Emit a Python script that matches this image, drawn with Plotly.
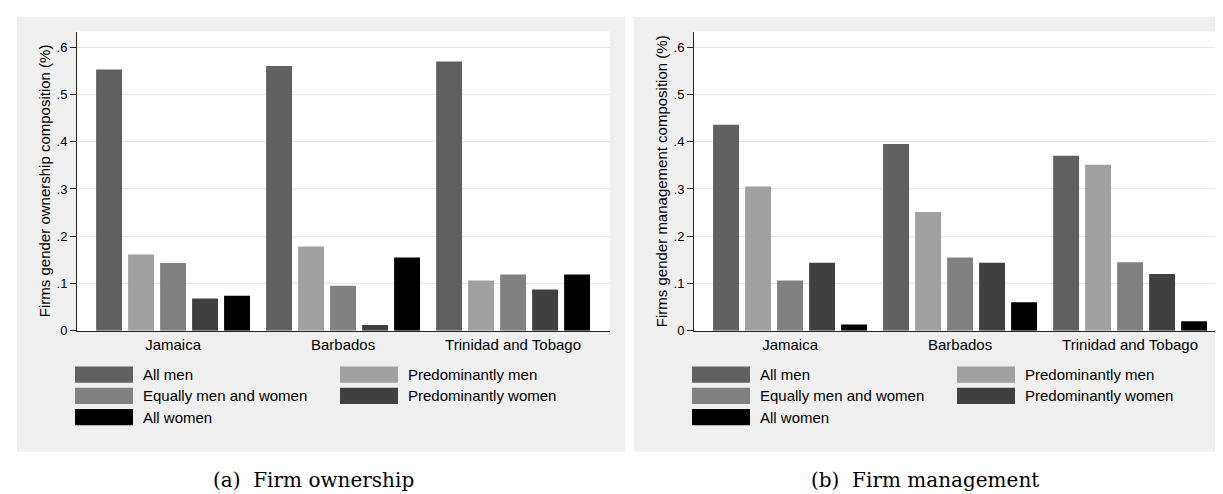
import plotly.graph_objects as go

# ---------------- data ----------------
countries = ["Jamaica", "Barbados", "Trinidad and Tobago"]
series_names = ["All men", "Predominantly men", "Equally men and women",
                "Predominantly women", "All women"]
series_colors = ["#606060", "#a0a0a0", "#808080", "#404040", "#000000"]

own_all_men = [0.553, 0.560, 0.570]
own_pred_men = [0.161, 0.178, 0.106]
own_equal = [0.143, 0.095, 0.119]
own_pred_women = [0.068, 0.012, 0.087]
own_all_women = [0.074, 0.155, 0.119]

man_all_men = [0.436, 0.395, 0.370]
man_pred_men = [0.305, 0.251, 0.351]
man_equal = [0.106, 0.155, 0.145]
man_pred_women = [0.144, 0.144, 0.120]
man_all_women = [0.013, 0.060, 0.020]

ytick_vals = [0, 0.1, 0.2, 0.3, 0.4, 0.5, 0.6]
ytick_text = ["0", ".1", ".2", ".3", ".4", ".5", ".6"]

ytitles = ["Firms gender ownership composition (%)",
           "Firms gender management composition (%)"]
captions = ["(a)  Firm ownership", "(b)  Firm management"]

# ---------------- geometry ----------------
W, H = 1223, 494


def px(x):
    return x / W


def py(y):
    return 1 - y / H


SANS = "Liberation Sans, Arial, Helvetica, sans-serif"
SERIF = "DejaVu Serif, serif"

panels = [
    dict(bg=(9, 617), plot=(69, 602), cap_x=305, xa="x", ya="y",
         vals=[own_all_men, own_pred_men, own_equal, own_pred_women, own_all_women]),
    dict(bg=(626, 1223), plot=(686, 1219), cap_x=917, xa="x2", ya="y2",
         vals=[man_all_men, man_pred_men, man_equal, man_pred_women, man_all_women]),
]
plot_top, plot_bot = 24, 328
bg_top, bg_bot = 9, 451

fig = go.Figure()
shapes = []
annotations = []

for i, p in enumerate(panels):
    for name, col, v in zip(series_names, series_colors, p["vals"]):
        fig.add_trace(go.Bar(x=countries, y=v, name=name, marker_color=col,
                             marker_line_width=0, xaxis=p["xa"], yaxis=p["ya"],
                             showlegend=False))
    # grey panel background
    shapes.append(dict(type="rect", xref="paper", yref="paper", layer="below",
                       x0=px(p["bg"][0]), x1=px(p["bg"][1]),
                       y0=py(bg_bot), y1=py(bg_top),
                       fillcolor="#efefef", line_width=0))
    # white plot region
    shapes.append(dict(type="rect", xref="paper", yref="paper", layer="below",
                       x0=px(p["plot"][0]), x1=px(p["plot"][1]),
                       y0=py(plot_bot), y1=py(plot_top),
                       fillcolor="#ffffff", line_width=0))
    # y-axis title
    annotations.append(dict(xref="paper", yref="paper", x=px(p["plot"][0] - 33),
                            y=py((plot_top + plot_bot) / 2), text=ytitles[i],
                            textangle=-90, showarrow=False,
                            font=dict(family=SANS, size=15, color="#000"),
                            xanchor="center", yanchor="middle"))
    # manual legend
    x0 = p["plot"][0] - 2
    col_off = [0, 265]
    row_y = [364.5, 386, 407.5]
    kw, kh = 58, 16.5
    for j, (name, col) in enumerate(zip(series_names, series_colors)):
        r, c = divmod(j, 2)
        kx = x0 + col_off[c]
        ky = row_y[r]
        shapes.append(dict(type="rect", xref="paper", yref="paper",
                           x0=px(kx), x1=px(kx + kw), y0=py(ky + kh), y1=py(ky),
                           fillcolor=col, line_width=0))
        annotations.append(dict(xref="paper", yref="paper", x=px(kx + kw + 8),
                                y=py(ky + kh / 2), text=name, showarrow=False,
                                xanchor="left", yanchor="middle",
                                font=dict(family=SANS, size=15, color="#000")))
    # caption
    annotations.append(dict(xref="paper", yref="paper",
                            x=px(p["cap_x"]), y=py(480),
                            text=captions[i], showarrow=False,
                            xanchor="center", yanchor="middle",
                            font=dict(family=SERIF, size=20, color="#000")))

axis_common_x = dict(type="category", range=[-0.565, 2.57], showgrid=False,
                     zeroline=False, showline=True, linecolor="#222", linewidth=1,
                     ticks="", tickfont=dict(family=SANS, size=15, color="#000"),
                     fixedrange=True)
axis_common_y = dict(range=[0, 0.633], tickmode="array", tickvals=ytick_vals,
                     ticktext=ytick_text, showgrid=True, gridcolor="#e6e6e6",
                     gridwidth=1, zeroline=False, showline=True, linecolor="#222",
                     linewidth=1, ticks="outside", ticklen=6, tickcolor="#222",
                     tickfont=dict(family=SANS, size=13, color="#000"),
                     fixedrange=True)

fig.update_layout(
    width=W, height=H,
    margin=dict(l=0, r=0, t=0, b=0),
    paper_bgcolor="white", plot_bgcolor="white",
    barmode="group", bargap=0.059, bargroupgap=0.19,
    showlegend=False,
    shapes=shapes, annotations=annotations,
    xaxis=dict(domain=[px(69), px(602)], anchor="y", **axis_common_x),
    yaxis=dict(domain=[py(plot_bot), py(plot_top)], anchor="x", **axis_common_y),
    xaxis2=dict(domain=[px(686), px(1219)], anchor="y2", **axis_common_x),
    yaxis2=dict(domain=[py(plot_bot), py(plot_top)], anchor="x2", **axis_common_y),
)

fig.write_html("out.html")
